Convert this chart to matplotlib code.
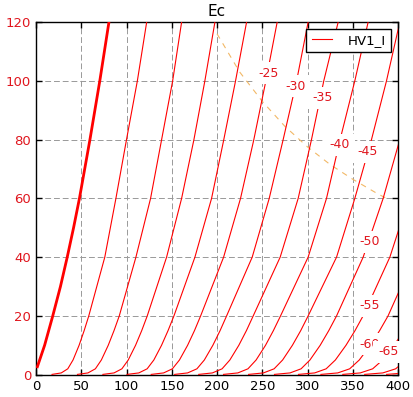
#!/usr/bin/env python3
"""Plate curves (Ia vs Va) for several grid voltages Ec, with labels."""

import matplotlib

matplotlib.use("Agg")
import matplotlib.pyplot as plt


# plate current points shared by the thin curves (mA)
Y_PTS = [0.1, 0.6, 2, 5, 10, 15, 20, 40, 60, 80, 100, 120]

# Ec = 0 V curve (drawn thick)
EC0_Y = [2.7, 10, 20, 30, 40, 50, 60, 80, 100, 120]
EC0_X = [1.5, 9.5, 18.5, 27, 34.5, 41.5, 48, 59.6, 70.5, 80.6]

# plate voltage at each Y_PTS value, one list per grid voltage
EC5_X = [17.7, 27.9, 35.1, 40.9, 47.6, 53.2, 58.3, 76, 88.3, 100, 112, 122.3]
EC10_X = [45.8, 57.4, 65.6, 72.2, 79.8, 86.2, 92, 110.4, 126.6, 138.8, 151, 160.9]
EC15_X = [73.9, 86.2, 94.9, 101.9, 110, 116.8, 122.9, 144.3, 160.9, 174.5, 186.6, 197.7]
EC20_X = [100.6, 113.6, 122.8, 130.2, 138.7, 145.9, 152.4, 175.6, 194, 207.5, 220.5, 232.7]
EC25_X = [127.3, 141, 150.7, 158.5, 167.5, 175.1, 181.9, 207.3, 226, 240.7, 254, 266.5]
EC30_X = [153.2, 167.5, 177.8, 186, 195.4, 203.4, 210.6, 238.9, 257.7, 273.1, 288, 300.7]
EC35_X = [179.8, 194.9, 205.6, 214.2, 224.1, 232.5, 240, 269.8, 289.7, 304.4, 318, 333.9]
EC40_X = [207.2, 223, 234.2, 243.2, 253.6, 262.3, 270.2, 300.7, 321, 336, 352.3, 367]
EC45_X = [234.9, 251.3, 263.1, 272.5, 283.3, 292.5, 300.7, 332.1, 352.3, 370.7, 387.3, 402]
EC50_X = [263.5, 280.7, 292.9, 302.7, 314, 323.5, 332.1, 361.5, 383.6, 402]
EC55_X = [290, 307.9, 320.6, 330.8, 342.5, 352.5, 361.4, 391, 412]
EC60_X = [314.8, 333.4, 346.6, 357.2, 369.4, 379.7, 389, 418]
EC65_X = [339, 358.3, 372, 383, 395.7, 406.4, 416]
EC70_X = [363.2, 383.2, 397.4, 408.8]
EC75_X = [387.4, 408]

THIN_CURVES = [EC5_X, EC10_X, EC15_X, EC20_X, EC25_X, EC30_X, EC35_X,
               EC40_X, EC45_X, EC50_X, EC55_X, EC60_X, EC65_X, EC70_X, EC75_X]

# max plate dissipation line
PD_X = [200, 225, 250, 275, 300, 325, 350, 375, 390]
PD_Y = [116, 103, 93, 84.5, 77.5, 71.5, 66.5, 62, 59.5]

# curve labels
LABEL_TEXT = ["-25", "-30", "-35", "-40", "-45", "-50", "-55", "-60", "-65"]
LABEL_X = [256.6, 286.8, 316.2, 335.7, 366.9, 368.9, 368.1, 368.5, 389.1]
LABEL_Y = [102.5, 98.2, 94.2, 78.2, 75.8, 45.2, 23.4, 10.4, 7.8]

X_TICKS = [0, 50, 100, 150, 200, 250, 300, 350, 400]
Y_TICKS = [0, 20, 40, 60, 80, 100, 120]


def main() -> None:
    fig = plt.figure(figsize=(4.13, 3.97), dpi=100)
    ax = fig.add_axes([0.0872, 0.0562, 0.8765, 0.8884])

    ax.plot(EC0_X, EC0_Y, color="red", linewidth=2.0, zorder=3)
    for i, xs in enumerate(THIN_CURVES):
        ax.plot(xs, Y_PTS[:len(xs)], color="red", linewidth=0.8, zorder=3,
                label="HV1_I" if i == 0 else None)

    ax.plot(PD_X, PD_Y, color="#f2b866", linewidth=0.8,
            linestyle=(0, (5, 5)), zorder=2)

    for text, x, y in zip(LABEL_TEXT, LABEL_X, LABEL_Y):
        ax.text(x, y, text, color="#e0161e", fontsize=9, ha="center",
                va="center", zorder=5,
                bbox=dict(facecolor="white", edgecolor="none", pad=3.2))

    ax.set_xlim(0, 400)
    ax.set_ylim(0, 120)
    ax.set_xticks(X_TICKS)
    ax.set_yticks(Y_TICKS)
    ax.grid(True, color="#999999", linewidth=0.7, linestyle=(0, (6, 3)))
    ax.set_axisbelow(True)
    ax.tick_params(direction="in", top=True, right=True, length=4,
                   labelsize=9.5, width=1)
    ax.tick_params(axis="y", labelcolor="#e0161e")
    for spine in ax.spines.values():
        spine.set_linewidth(1.0)
        spine.set_color("black")

    ax.set_title("Ec", fontsize=11, pad=4)
    ax.legend(loc="upper right", fontsize=9.6, fancybox=False,
              edgecolor="black", framealpha=1, handlelength=1.5,
              handletextpad=1.2, borderpad=0.4, borderaxespad=0.5)

    fig.savefig("out.png", dpi=100)
    plt.close(fig)


if __name__ == "__main__":
    main()
